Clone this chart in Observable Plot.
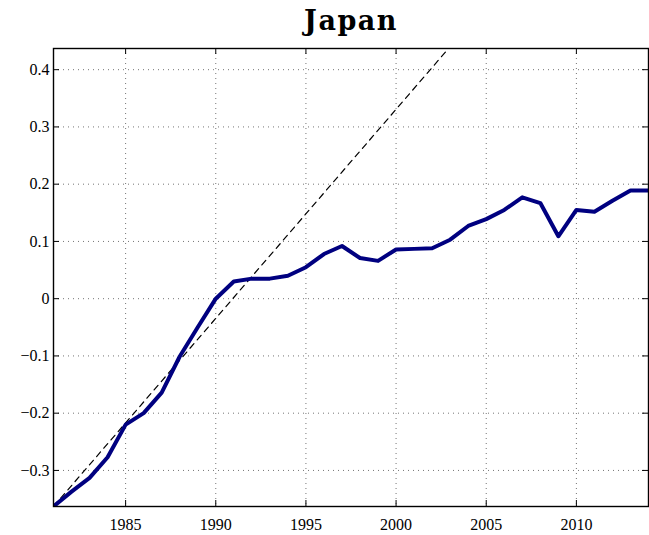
<!DOCTYPE html>
<html>
<head>
<meta charset="utf-8">
<script src="https://cdn.jsdelivr.net/npm/d3@7"></script>
<script src="https://cdn.jsdelivr.net/npm/@observablehq/plot@0.6"></script>
<style>
  html, body { margin: 0; padding: 0; background: #fff; }
  #chart svg { display: block; }
  #chart g[aria-label="x-axis tick label"],
  #chart g[aria-label="y-axis tick label"] {
    font-family: "Liberation Serif", serif !important;
    font-size: 16px !important;
  }
  #chart g[aria-label="x-axis tick label"] text,
  #chart g[aria-label="y-axis tick label"] text {
    font-family: "Liberation Serif", serif !important;
    font-size: 16px !important;
  }
</style>
</head>
<body>
<div id="chart"></div>
<script>
const title = "Japan";
const years = [1981, 1982, 1983, 1984, 1985, 1986, 1987, 1988, 1989, 1990,
  1991, 1992, 1993, 1994, 1995, 1996, 1997, 1998, 1999, 2000,
  2001, 2002, 2003, 2004, 2005, 2006, 2007, 2008, 2009, 2010,
  2011, 2012, 2013, 2014];
const values = [-0.363, -0.337, -0.313, -0.277, -0.220, -0.200, -0.164, -0.101, -0.050, 0.000,
  0.030, 0.035, 0.035, 0.040, 0.055, 0.078, 0.092, 0.071, 0.066, 0.086,
  0.087, 0.088, 0.103, 0.127, 0.139, 0.155, 0.177, 0.167, 0.109, 0.155,
  0.152, 0.171, 0.189, 0.189];
const trendYears = [1981, 2014];
const trendValues = [-0.363, 0.842];
const xTicks = [1985, 1990, 1995, 2000, 2005, 2010];
const yTicks = [-0.3, -0.2, -0.1, 0, 0.1, 0.2, 0.3, 0.4];
const xDomain = [1981, 2014];
const yDomain = [-0.363, 0.437];

const W = 649, H = 535;
const mT = 48, mB = 29, mL = 53, mR = 1;
const innerH = H - mT - mB, innerW = W - mL - mR;
const tickLen = 6;
const serif = "Liberation Serif";

const series = years.map((t, i) => ({t, v: values[i]}));
const trend = trendYears.map((t, i) => ({t, v: trendValues[i]}));
const fmtY = d => d === 0 ? "0" : (d < 0 ? "\u2212" + Math.abs(d).toFixed(1) : d.toFixed(1));

const chart = Plot.plot({
  width: W, height: H,
  marginTop: mT, marginBottom: mB, marginLeft: mL, marginRight: mR,
  style: {fontFamily: serif, fontSize: "16px", color: "#000", background: "#fff"},
  x: {domain: xDomain, label: null},
  y: {domain: yDomain, label: null},
  marks: [
    Plot.gridX(xTicks, {stroke: "#000", strokeOpacity: 0.55, strokeWidth: 1, strokeDasharray: "1,4"}),
    Plot.gridY(yTicks, {stroke: "#000", strokeOpacity: 0.55, strokeWidth: 1, strokeDasharray: "1,4"}),
    Plot.axisX(xTicks, {anchor: "bottom", tickSize: 0, tickPadding: 12, tickFormat: d => String(d), fontSize: 16, fontFamily: serif, fill: "#000"}),
    Plot.axisY(yTicks, {anchor: "left", tickSize: 0, tickPadding: 4, tickFormat: fmtY, fontSize: 16, fontFamily: serif, fill: "#000"}),
    Plot.tickX(xTicks, {x: d => d, insetTop: innerH - tickLen, stroke: "#000", strokeWidth: 1}),
    Plot.tickX(xTicks, {x: d => d, insetBottom: innerH - tickLen, stroke: "#000", strokeWidth: 1}),
    Plot.tickY(yTicks, {y: d => d, insetRight: innerW - tickLen, stroke: "#000", strokeWidth: 1}),
    Plot.tickY(yTicks, {y: d => d, insetLeft: innerW - tickLen, stroke: "#000", strokeWidth: 1}),
    Plot.line(trend, {x: "t", y: "v", stroke: "#000", strokeWidth: 1.2, strokeDasharray: "6,5", clip: true}),
    Plot.line(series, {x: "t", y: "v", stroke: "#000080", strokeWidth: 4, strokeLinejoin: "round", clip: true}),
    Plot.frame({stroke: "#000", strokeWidth: 1.4}),
    Plot.text([title], {frameAnchor: "top", dy: -38, fontSize: 27, fontWeight: "bold", fontFamily: "DejaVu Serif", fill: "#000"})
  ]
});
chart.querySelectorAll('g[aria-label="x-axis tick label"], g[aria-label="y-axis tick label"]').forEach(g => {
  g.setAttribute("font-family", serif);
  g.setAttribute("font-size", "16");
  g.style.fontFamily = serif;
  g.style.fontSize = "16px";
});
const t = Array.from(chart.querySelectorAll("text")).find(e => e.textContent === title);
if (t) t.setAttribute("letter-spacing", "1.5");
document.getElementById("chart").appendChild(chart);
</script>
</body>
</html>
